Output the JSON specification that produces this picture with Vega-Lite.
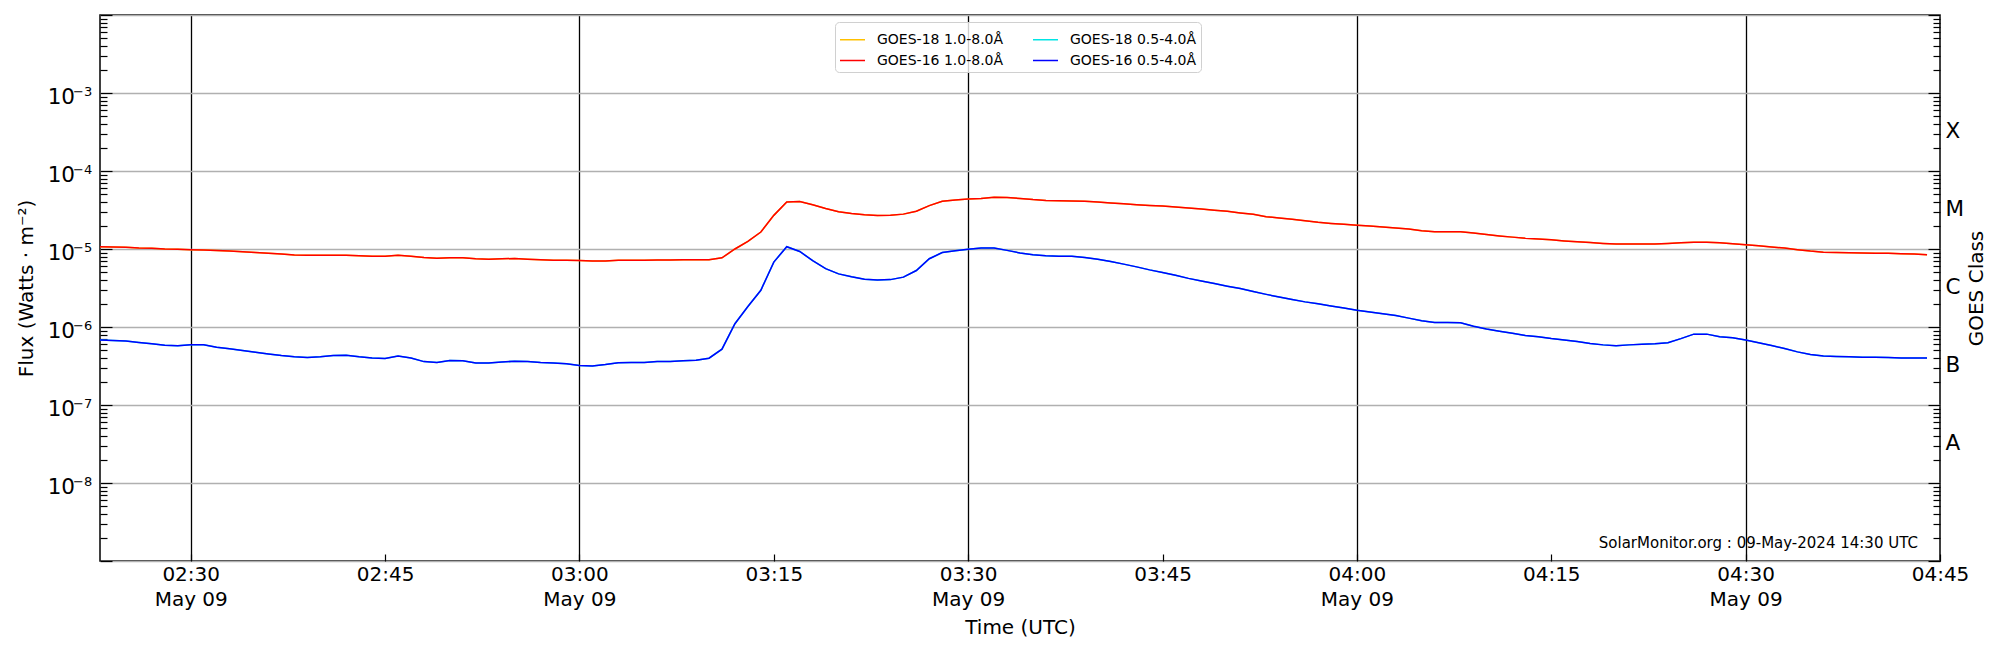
{
"$schema": "https://vega.github.io/schema/vega-lite/v6.json",
"width": 1840, "height": 546,
"autosize": {"type": "none"},
"padding": {"left": 100, "top": 15, "right": 60, "bottom": 89},
"background": "white",
"config": {
  "font": "DejaVu Sans",
  "view": {"stroke": "black", "strokeWidth": 1.5},
  "axis": {"labelFont": "DejaVu Sans", "titleFont": "DejaVu Sans", "labelFontSize": 20, "titleFontSize": 20, "titleFontWeight": "normal", "labelColor": "black", "titleColor": "black", "domain": false, "tickColor": "black", "tickWidth": 1.2, "labelOverlap": false, "labelFlush": false, "labelBound": false}
},
"data": {"values": [
{"t":"2024-05-09T02:23:00Z","l":1.07e-5,"s":6.8e-7},
{"t":"2024-05-09T02:24:00Z","l":1.06e-5,"s":6.7e-7},
{"t":"2024-05-09T02:25:00Z","l":1.05e-5,"s":6.6e-7},
{"t":"2024-05-09T02:26:00Z","l":1.03e-5,"s":6.35e-7},
{"t":"2024-05-09T02:27:00Z","l":1.02e-5,"s":6.1e-7},
{"t":"2024-05-09T02:28:00Z","l":1.0e-5,"s":5.85e-7},
{"t":"2024-05-09T02:29:00Z","l":9.9e-6,"s":5.75e-7},
{"t":"2024-05-09T02:30:00Z","l":9.8e-6,"s":5.9e-7},
{"t":"2024-05-09T02:31:00Z","l":9.7e-6,"s":5.9e-7},
{"t":"2024-05-09T02:32:00Z","l":9.6e-6,"s":5.5e-7},
{"t":"2024-05-09T02:33:00Z","l":9.4e-6,"s":5.25e-7},
{"t":"2024-05-09T02:34:00Z","l":9.2e-6,"s":5.0e-7},
{"t":"2024-05-09T02:35:00Z","l":9.0e-6,"s":4.75e-7},
{"t":"2024-05-09T02:36:00Z","l":8.8e-6,"s":4.5e-7},
{"t":"2024-05-09T02:37:00Z","l":8.6e-6,"s":4.3e-7},
{"t":"2024-05-09T02:38:00Z","l":8.4e-6,"s":4.15e-7},
{"t":"2024-05-09T02:39:00Z","l":8.3e-6,"s":4.07e-7},
{"t":"2024-05-09T02:40:00Z","l":8.3e-6,"s":4.15e-7},
{"t":"2024-05-09T02:41:00Z","l":8.3e-6,"s":4.3e-7},
{"t":"2024-05-09T02:42:00Z","l":8.3e-6,"s":4.35e-7},
{"t":"2024-05-09T02:43:00Z","l":8.2e-6,"s":4.15e-7},
{"t":"2024-05-09T02:44:00Z","l":8.1e-6,"s":4.0e-7},
{"t":"2024-05-09T02:45:00Z","l":8.1e-6,"s":3.96e-7},
{"t":"2024-05-09T02:46:00Z","l":8.3e-6,"s":4.25e-7},
{"t":"2024-05-09T02:47:00Z","l":8.1e-6,"s":4.0e-7},
{"t":"2024-05-09T02:48:00Z","l":7.8e-6,"s":3.6e-7},
{"t":"2024-05-09T02:49:00Z","l":7.6e-6,"s":3.5e-7},
{"t":"2024-05-09T02:50:00Z","l":7.7e-6,"s":3.72e-7},
{"t":"2024-05-09T02:51:00Z","l":7.7e-6,"s":3.7e-7},
{"t":"2024-05-09T02:52:00Z","l":7.5e-6,"s":3.45e-7},
{"t":"2024-05-09T02:53:00Z","l":7.4e-6,"s":3.45e-7},
{"t":"2024-05-09T02:54:00Z","l":7.5e-6,"s":3.55e-7},
{"t":"2024-05-09T02:55:00Z","l":7.55e-6,"s":3.65e-7},
{"t":"2024-05-09T02:56:00Z","l":7.4e-6,"s":3.6e-7},
{"t":"2024-05-09T02:57:00Z","l":7.3e-6,"s":3.5e-7},
{"t":"2024-05-09T02:58:00Z","l":7.2e-6,"s":3.45e-7},
{"t":"2024-05-09T02:59:00Z","l":7.15e-6,"s":3.37e-7},
{"t":"2024-05-09T03:00:00Z","l":7.1e-6,"s":3.2e-7},
{"t":"2024-05-09T03:01:00Z","l":7.0e-6,"s":3.17e-7},
{"t":"2024-05-09T03:02:00Z","l":7.0e-6,"s":3.3e-7},
{"t":"2024-05-09T03:03:00Z","l":7.15e-6,"s":3.47e-7},
{"t":"2024-05-09T03:04:00Z","l":7.2e-6,"s":3.5e-7},
{"t":"2024-05-09T03:05:00Z","l":7.2e-6,"s":3.5e-7},
{"t":"2024-05-09T03:06:00Z","l":7.25e-6,"s":3.6e-7},
{"t":"2024-05-09T03:07:00Z","l":7.25e-6,"s":3.6e-7},
{"t":"2024-05-09T03:08:00Z","l":7.3e-6,"s":3.7e-7},
{"t":"2024-05-09T03:09:00Z","l":7.3e-6,"s":3.75e-7},
{"t":"2024-05-09T03:10:00Z","l":7.3e-6,"s":3.98e-7},
{"t":"2024-05-09T03:11:00Z","l":7.7e-6,"s":5.2e-7},
{"t":"2024-05-09T03:12:00Z","l":1.0e-5,"s":1.1e-6},
{"t":"2024-05-09T03:13:00Z","l":1.25e-5,"s":1.83e-6},
{"t":"2024-05-09T03:14:00Z","l":1.65e-5,"s":2.96e-6},
{"t":"2024-05-09T03:15:00Z","l":2.7e-5,"s":6.8e-6},
{"t":"2024-05-09T03:16:00Z","l":4.0e-5,"s":1.07e-5},
{"t":"2024-05-09T03:17:00Z","l":4.06e-5,"s":9.3e-6},
{"t":"2024-05-09T03:18:00Z","l":3.7e-5,"s":7.1e-6},
{"t":"2024-05-09T03:19:00Z","l":3.3e-5,"s":5.6e-6},
{"t":"2024-05-09T03:20:00Z","l":3.0e-5,"s":4.8e-6},
{"t":"2024-05-09T03:21:00Z","l":2.85e-5,"s":4.4e-6},
{"t":"2024-05-09T03:22:00Z","l":2.75e-5,"s":4.1e-6},
{"t":"2024-05-09T03:23:00Z","l":2.68e-5,"s":4.0e-6},
{"t":"2024-05-09T03:24:00Z","l":2.7e-5,"s":4.05e-6},
{"t":"2024-05-09T03:25:00Z","l":2.8e-5,"s":4.36e-6},
{"t":"2024-05-09T03:26:00Z","l":3.05e-5,"s":5.3e-6},
{"t":"2024-05-09T03:27:00Z","l":3.6e-5,"s":7.5e-6},
{"t":"2024-05-09T03:28:00Z","l":4.1e-5,"s":9.0e-6},
{"t":"2024-05-09T03:29:00Z","l":4.25e-5,"s":9.5e-6},
{"t":"2024-05-09T03:30:00Z","l":4.37e-5,"s":9.9e-6},
{"t":"2024-05-09T03:31:00Z","l":4.45e-5,"s":1.03e-5},
{"t":"2024-05-09T03:32:00Z","l":4.6e-5,"s":1.03e-5},
{"t":"2024-05-09T03:33:00Z","l":4.57e-5,"s":9.6e-6},
{"t":"2024-05-09T03:34:00Z","l":4.45e-5,"s":8.9e-6},
{"t":"2024-05-09T03:35:00Z","l":4.3e-5,"s":8.45e-6},
{"t":"2024-05-09T03:36:00Z","l":4.2e-5,"s":8.2e-6},
{"t":"2024-05-09T03:37:00Z","l":4.17e-5,"s":8.1e-6},
{"t":"2024-05-09T03:38:00Z","l":4.12e-5,"s":8.05e-6},
{"t":"2024-05-09T03:39:00Z","l":4.08e-5,"s":7.8e-6},
{"t":"2024-05-09T03:40:00Z","l":4.0e-5,"s":7.4e-6},
{"t":"2024-05-09T03:41:00Z","l":3.9e-5,"s":6.9e-6},
{"t":"2024-05-09T03:42:00Z","l":3.8e-5,"s":6.4e-6},
{"t":"2024-05-09T03:43:00Z","l":3.7e-5,"s":5.9e-6},
{"t":"2024-05-09T03:44:00Z","l":3.62e-5,"s":5.4e-6},
{"t":"2024-05-09T03:45:00Z","l":3.55e-5,"s":5.0e-6},
{"t":"2024-05-09T03:46:00Z","l":3.45e-5,"s":4.6e-6},
{"t":"2024-05-09T03:47:00Z","l":3.35e-5,"s":4.2e-6},
{"t":"2024-05-09T03:48:00Z","l":3.25e-5,"s":3.9e-6},
{"t":"2024-05-09T03:49:00Z","l":3.15e-5,"s":3.6e-6},
{"t":"2024-05-09T03:50:00Z","l":3.05e-5,"s":3.34e-6},
{"t":"2024-05-09T03:51:00Z","l":2.9e-5,"s":3.12e-6},
{"t":"2024-05-09T03:52:00Z","l":2.78e-5,"s":2.85e-6},
{"t":"2024-05-09T03:53:00Z","l":2.6e-5,"s":2.62e-6},
{"t":"2024-05-09T03:54:00Z","l":2.5e-5,"s":2.42e-6},
{"t":"2024-05-09T03:55:00Z","l":2.4e-5,"s":2.25e-6},
{"t":"2024-05-09T03:56:00Z","l":2.3e-5,"s":2.1e-6},
{"t":"2024-05-09T03:57:00Z","l":2.2e-5,"s":1.98e-6},
{"t":"2024-05-09T03:58:00Z","l":2.13e-5,"s":1.86e-6},
{"t":"2024-05-09T03:59:00Z","l":2.07e-5,"s":1.75e-6},
{"t":"2024-05-09T04:00:00Z","l":2.02e-5,"s":1.64e-6},
{"t":"2024-05-09T04:01:00Z","l":1.97e-5,"s":1.56e-6},
{"t":"2024-05-09T04:02:00Z","l":1.91e-5,"s":1.48e-6},
{"t":"2024-05-09T04:03:00Z","l":1.86e-5,"s":1.4e-6},
{"t":"2024-05-09T04:04:00Z","l":1.8e-5,"s":1.3e-6},
{"t":"2024-05-09T04:05:00Z","l":1.72e-5,"s":1.2e-6},
{"t":"2024-05-09T04:06:00Z","l":1.67e-5,"s":1.14e-6},
{"t":"2024-05-09T04:07:00Z","l":1.67e-5,"s":1.14e-6},
{"t":"2024-05-09T04:08:00Z","l":1.66e-5,"s":1.13e-6},
{"t":"2024-05-09T04:09:00Z","l":1.6e-5,"s":1.02e-6},
{"t":"2024-05-09T04:10:00Z","l":1.53e-5,"s":9.4e-7},
{"t":"2024-05-09T04:11:00Z","l":1.47e-5,"s":8.8e-7},
{"t":"2024-05-09T04:12:00Z","l":1.42e-5,"s":8.3e-7},
{"t":"2024-05-09T04:13:00Z","l":1.37e-5,"s":7.8e-7},
{"t":"2024-05-09T04:14:00Z","l":1.34e-5,"s":7.5e-7},
{"t":"2024-05-09T04:15:00Z","l":1.31e-5,"s":7.1e-7},
{"t":"2024-05-09T04:16:00Z","l":1.27e-5,"s":6.8e-7},
{"t":"2024-05-09T04:17:00Z","l":1.24e-5,"s":6.5e-7},
{"t":"2024-05-09T04:18:00Z","l":1.21e-5,"s":6.15e-7},
{"t":"2024-05-09T04:19:00Z","l":1.18e-5,"s":5.9e-7},
{"t":"2024-05-09T04:20:00Z","l":1.16e-5,"s":5.75e-7},
{"t":"2024-05-09T04:21:00Z","l":1.16e-5,"s":5.9e-7},
{"t":"2024-05-09T04:22:00Z","l":1.16e-5,"s":6.0e-7},
{"t":"2024-05-09T04:23:00Z","l":1.16e-5,"s":6.1e-7},
{"t":"2024-05-09T04:24:00Z","l":1.18e-5,"s":6.3e-7},
{"t":"2024-05-09T04:25:00Z","l":1.2e-5,"s":7.1e-7},
{"t":"2024-05-09T04:26:00Z","l":1.22e-5,"s":8.1e-7},
{"t":"2024-05-09T04:27:00Z","l":1.22e-5,"s":8.1e-7},
{"t":"2024-05-09T04:28:00Z","l":1.2e-5,"s":7.5e-7},
{"t":"2024-05-09T04:29:00Z","l":1.17e-5,"s":7.3e-7},
{"t":"2024-05-09T04:30:00Z","l":1.13e-5,"s":6.8e-7},
{"t":"2024-05-09T04:31:00Z","l":1.1e-5,"s":6.3e-7},
{"t":"2024-05-09T04:32:00Z","l":1.06e-5,"s":5.8e-7},
{"t":"2024-05-09T04:33:00Z","l":1.03e-5,"s":5.3e-7},
{"t":"2024-05-09T04:34:00Z","l":9.8e-6,"s":4.8e-7},
{"t":"2024-05-09T04:35:00Z","l":9.4e-6,"s":4.45e-7},
{"t":"2024-05-09T04:36:00Z","l":9.1e-6,"s":4.25e-7},
{"t":"2024-05-09T04:37:00Z","l":9.0e-6,"s":4.2e-7},
{"t":"2024-05-09T04:38:00Z","l":8.95e-6,"s":4.15e-7},
{"t":"2024-05-09T04:39:00Z","l":8.9e-6,"s":4.1e-7},
{"t":"2024-05-09T04:40:00Z","l":8.85e-6,"s":4.1e-7},
{"t":"2024-05-09T04:41:00Z","l":8.8e-6,"s":4.05e-7},
{"t":"2024-05-09T04:42:00Z","l":8.7e-6,"s":4.0e-7},
{"t":"2024-05-09T04:43:00Z","l":8.6e-6,"s":4.0e-7},
{"t":"2024-05-09T04:44:00Z","l":8.45e-6,"s":4.0e-7}
]},
"resolve": {"axis": {"x": "independent", "y": "independent"}},
"layer": [
  {
    "mark": {"type": "line", "strokeWidth": 1.5},
    "encoding": {
      "x": {"field": "t", "type": "temporal", "scale": {"type": "utc", "domain": [1715221380000, 1715229900000]},
        "axis": {"orient": "bottom", "title": "Time (UTC)", "values": [1715221800000,1715222700000,1715223600000,1715224500000,1715225400000,1715226300000,1715227200000,1715228100000,1715229000000,1715229900000],
          "labelExpr": "utcminutes(datum.value) % 30 == 0 ? [utcFormat(datum.value, '%H:%M'), utcFormat(datum.value, '%b %d')] : utcFormat(datum.value, '%H:%M')",
          "labelPadding": 10, "labelLineHeight": 25, "tickSize": -7, "grid": true, "gridColor": "black", "gridWidth": 1.3,
          "gridOpacity": {"condition": {"test": "utcminutes(datum.value) % 30 == 0", "value": 1}, "value": 0},
          "titlePadding": 8}},
      "y": {"field": "l", "type": "quantitative", "scale": {"type": "log", "domain": [1e-9, 1e-2]},
        "axis": {"orient": "left", "title": null, "labels": false, "values": [1e-9,2e-9,3e-9,4e-9,5e-9,6e-9,7e-9,8e-9,9e-9,1e-8,2e-8,3e-8,4e-8,5e-8,6e-8,7e-8,8e-8,9e-8,1e-7,2e-7,3e-7,4e-7,5e-7,6e-7,7e-7,8e-7,9e-7,1e-6,2e-6,3e-6,4e-6,5e-6,6e-6,7e-6,8e-6,9e-6,1e-5,2e-5,3e-5,4e-5,5e-5,6e-5,7e-5,8e-5,9e-5,1e-4,2e-4,3e-4,4e-4,5e-4,6e-4,7e-4,8e-4,9e-4,1e-3,2e-3,3e-3,4e-3,5e-3,6e-3,7e-3,8e-3,9e-3,1e-2],
          "tickSize": {"condition": {"test": "abs(log(datum.value)/LN10 - round(log(datum.value)/LN10)) < 0.01", "value": -12}, "value": -7},
          "grid": true, "gridColor": "#b0b0b0", "gridWidth": 1.3,
          "gridOpacity": {"condition": {"test": "abs(log(datum.value)/LN10 - round(log(datum.value)/LN10)) < 0.01", "value": 1}, "value": 0}}},
      "color": {"datum": "GOES-18 1.0-8.0Å", "type": "nominal",
        "scale": {"domain": ["GOES-18 1.0-8.0Å", "GOES-16 1.0-8.0Å", "GOES-18 0.5-4.0Å", "GOES-16 0.5-4.0Å"], "range": ["#FFC000", "#FF0000", "#00E5E5", "#0000FF"]},
        "legend": {"title": null, "orient": "none", "legendX": 735, "legendY": 7, "columns": 2, "symbolType": "stroke", "symbolSize": 625, "symbolStrokeWidth": 1.5, "labelFont": "DejaVu Sans", "labelFontSize": 14, "labelColor": "black", "labelOffset": 11, "padding": 4, "rowPadding": 0, "columnPadding": 26, "strokeColor": "#d0d0d0", "fillColor": "rgba(255,255,255,0.8)", "cornerRadius": 4}}
    }
  },
  {
    "mark": {"type": "line", "strokeWidth": 1.5},
    "encoding": {
      "x": {"field": "t", "type": "temporal", "scale": {"type": "utc", "domain": [1715221380000, 1715229900000]}, "axis": null},
      "y": {"field": "s", "type": "quantitative", "scale": {"type": "log", "domain": [1e-9, 1e-2]},
        "axis": {"orient": "left", "title": "Flux (Watts · m⁻²)", "values": [1e-8,1e-7,1e-6,1e-5,1e-4,1e-3], "labelExpr": "'10'",
          "ticks": false, "tickSize": 0, "grid": false, "labelPadding": 25.5, "labelFontSize": 21.5, "labelAlign": "right", "labelBaseline": "alphabetic", "labelOffset": 10.7,
          "titlePadding": 11}},
      "color": {"datum": "GOES-18 0.5-4.0Å", "type": "nominal", "scale": {"domain": ["GOES-18 1.0-8.0Å", "GOES-16 1.0-8.0Å", "GOES-18 0.5-4.0Å", "GOES-16 0.5-4.0Å"], "range": ["#FFC000", "#FF0000", "#00E5E5", "#0000FF"]}}
    }
  },
  {
    "mark": {"type": "line", "strokeWidth": 1.5},
    "encoding": {
      "x": {"field": "t", "type": "temporal", "scale": {"type": "utc", "domain": [1715221380000, 1715229900000]}, "axis": null},
      "y": {"field": "l", "type": "quantitative", "scale": {"type": "log", "domain": [1e-9, 1e-2]},
        "axis": {"orient": "left", "title": null, "values": [1e-8,1e-7,1e-6,1e-5,1e-4,1e-3], "labelExpr": "'−' + (-round(log(datum.value)/LN10))",
          "ticks": false, "tickSize": 0, "grid": false, "labelPadding": 27.5, "labelFontSize": 13, "labelAlign": "left", "labelBaseline": "alphabetic", "labelOffset": 2.4}},
      "color": {"datum": "GOES-16 1.0-8.0Å", "type": "nominal", "scale": {"domain": ["GOES-18 1.0-8.0Å", "GOES-16 1.0-8.0Å", "GOES-18 0.5-4.0Å", "GOES-16 0.5-4.0Å"], "range": ["#FFC000", "#FF0000", "#00E5E5", "#0000FF"]}}
    }
  },
  {
    "mark": {"type": "line", "strokeWidth": 1.5},
    "encoding": {
      "x": {"field": "t", "type": "temporal", "scale": {"type": "utc", "domain": [1715221380000, 1715229900000]}, "axis": null},
      "y": {"field": "s", "type": "quantitative", "scale": {"type": "log", "domain": [1e-9, 1e-2]},
        "axis": {"orient": "right", "title": "GOES Class", "titleAngle": 270,
          "values": [1e-9,2e-9,3e-9,4e-9,5e-9,6e-9,7e-9,8e-9,9e-9,1e-8,2e-8,3e-8,4e-8,5e-8,6e-8,7e-8,8e-8,9e-8,1e-7,2e-7,3e-7,4e-7,5e-7,6e-7,7e-7,8e-7,9e-7,1e-6,2e-6,3e-6,4e-6,5e-6,6e-6,7e-6,8e-6,9e-6,1e-5,2e-5,3e-5,4e-5,5e-5,6e-5,7e-5,8e-5,9e-5,1e-4,2e-4,3e-4,4e-4,5e-4,6e-4,7e-4,8e-4,9e-4,1e-3,2e-3,3e-3,4e-3,5e-3,6e-3,7e-3,8e-3,9e-3,1e-2,3.1623e-8,3.1623e-7,3.1623e-6,3.1623e-5,3.1623e-4],
          "labelExpr": "abs(log(datum.value)/LN10 - floor(log(datum.value)/LN10) - 0.5) < 0.01 ? ['A','B','C','M','X'][floor(log(datum.value)/LN10) + 8] : ''",
          "labelPadding": 12, "labelFontSize": 21.5,
          "tickSize": {"condition": {"test": "abs(log(datum.value)/LN10 - round(log(datum.value)/LN10)) < 0.01", "value": -12}, "value": -7},
          "tickOpacity": {"condition": {"test": "abs(log(datum.value)/LN10 - floor(log(datum.value)/LN10) - 0.5) < 0.01", "value": 0}, "value": 1},
          "grid": false, "titlePadding": 23}},
      "color": {"datum": "GOES-16 0.5-4.0Å", "type": "nominal", "scale": {"domain": ["GOES-18 1.0-8.0Å", "GOES-16 1.0-8.0Å", "GOES-18 0.5-4.0Å", "GOES-16 0.5-4.0Å"], "range": ["#FFC000", "#FF0000", "#00E5E5", "#0000FF"]}}
    }
  },
  {
    "data": {"values": [{}]},
    "mark": {"type": "text", "align": "right", "baseline": "middle", "fontSize": 15, "font": "DejaVu Sans", "color": "black"},
    "encoding": {
      "x": {"datum": 1715229798000, "type": "temporal", "scale": {"type": "utc", "domain": [1715221380000, 1715229900000]}, "axis": null},
      "y": {"datum": 1.7e-9, "type": "quantitative", "scale": {"type": "log", "domain": [1e-9, 1e-2]}, "axis": null},
      "text": {"value": "SolarMonitor.org : 09-May-2024 14:30 UTC"}
    }
  }
]
}
